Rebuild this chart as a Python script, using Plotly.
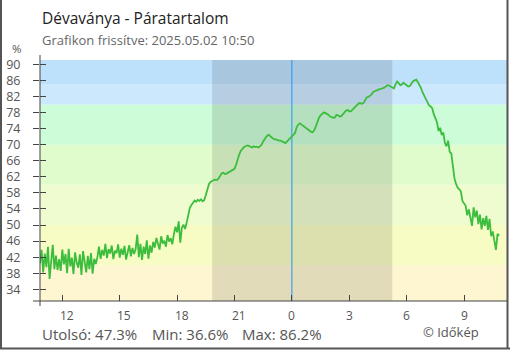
import pandas as pd
import plotly.graph_objects as go

# Relative humidity (%), one reading every 5 minutes, 2025-05-01 10:50 .. 2025-05-02 10:50
start_time = "2025-05-01 10:50"
step = "5min"
hum_rows = [
    [40.5, 43.8, 38.2, 42.9, 39.5, 44.6, 36.6, 41.8, 45.1, 39.0, 42.4, 38.8],
    [41.5, 38.6, 43.9, 40.2, 42.8, 38.0, 44.1, 39.7, 41.9, 37.8, 43.2, 40.6],
    [39.4, 42.7, 37.6, 43.5, 40.1, 38.2, 42.3, 39.0, 43.0, 37.9, 41.6, 40.3],
    [42.0, 44.6, 41.6, 43.8, 42.4, 45.3, 41.8, 44.0, 42.9, 44.9, 41.5, 43.6],
    [43.0, 45.2, 41.9, 44.1, 42.6, 44.8, 41.4, 43.7, 45.0, 42.2, 44.3, 42.8],
    [44.0, 47.6, 42.0, 45.3, 41.3, 44.6, 42.8, 46.2, 41.6, 44.9, 43.1, 45.8],
    [44.4, 46.8, 45.0, 43.9, 47.2, 45.4, 46.1, 44.6, 47.5, 45.9, 46.7, 45.2],
    [47.8, 49.6, 48.2, 50.9, 45.6, 49.3, 50.1, 49.0, 50.6, 52.8, 54.3, 55.0],
    [55.6, 56.1, 55.8, 56.3, 56.0, 56.4, 55.9, 56.2, 57.4, 59.0, 60.2, 60.7],
    [61.0, 61.2, 61.3, 61.2, 61.6, 62.3, 62.9, 63.0, 62.7, 62.8, 63.0, 63.3],
    [63.4, 63.6, 64.0, 65.0, 66.4, 67.6, 68.5, 69.0, 69.4, 69.6, 69.8, 69.7],
    [69.5, 69.3, 69.6, 69.4, 69.5, 69.3, 69.6, 70.0, 70.8, 71.5, 72.0, 72.4],
    [72.3, 71.9, 71.6, 71.3, 71.3, 71.1, 71.0, 71.0, 70.8, 70.5, 70.4, 70.8],
    [71.2, 71.6, 72.0, 72.3, 72.9, 74.3, 75.0, 75.3, 75.0, 74.5, 74.3, 73.9],
    [73.7, 73.5, 73.2, 73.1, 73.6, 74.5, 75.8, 76.7, 77.3, 77.6, 78.0, 77.9],
    [77.7, 77.4, 77.0, 76.8, 76.7, 76.8, 77.4, 77.3, 77.0, 77.1, 77.6, 78.2],
    [78.5, 78.6, 78.3, 78.3, 78.8, 79.2, 79.5, 79.9, 80.3, 80.3, 80.2, 80.4],
    [81.2, 81.8, 81.9, 82.1, 82.5, 83.1, 83.3, 83.5, 83.8, 83.8, 83.9, 84.0],
    [84.2, 84.5, 84.8, 84.7, 84.4, 84.1, 84.0, 85.0, 85.7, 85.3, 84.8, 85.0],
    [85.4, 85.1, 84.8, 84.5, 84.6, 85.4, 85.8, 86.0, 86.2, 85.6, 85.0, 84.1],
    [83.0, 82.2, 81.4, 80.5, 79.8, 79.5, 79.1, 77.6, 76.6, 75.6, 73.4, 74.2],
    [72.4, 73.0, 70.4, 69.6, 71.0, 68.2, 67.8, 64.0, 61.6, 60.2, 59.3, 58.9],
    [58.4, 56.0, 55.4, 54.8, 52.4, 53.9, 51.8, 49.8, 54.4, 51.9, 53.6, 50.2],
    [52.6, 48.9, 51.7, 49.8, 52.3, 48.8, 51.5, 47.2, 48.4, 45.6, 43.8, 47.8],
    [47.3],
]
humidity = [v for row in hum_rows for v in row]
times = pd.date_range(start_time, periods=len(humidity), freq=step)

# Axis settings
x_range = ["2025-05-01 10:50", "2025-05-02 11:14:43"]
y_range = [31.09, 91.07]
y_ticks = list(range(34, 91, 4))
x_tick_times = ["2025-05-01 12:00", "2025-05-01 15:00", "2025-05-01 18:00", "2025-05-01 21:00",
                "2025-05-02 00:00", "2025-05-02 03:00", "2025-05-02 06:00", "2025-05-02 09:00"]
x_tick_labels = ["12", "15", "18", "21", "0", "3", "6", "9"]

# Humidity background bands (lower edge, upper edge, colour)
band_low = [31.09, 40, 50, 60, 70, 80, 85]
band_high = [40, 50, 60, 70, 80, 85, 91.07]
band_colors = ["#fdf6d0", "#f6fcc4", "#eefcd0", "#e0fccc", "#ccfcd8", "#cce8fd", "#bde0fb"]

night_start = "2025-05-01 19:50"
night_end = "2025-05-02 05:15"
midnight = "2025-05-02 00:00"

title_text = "Dévaványa - Páratartalom"
updated_text = "Grafikon frissítve: 2025.05.02 10:50"
credit_text = "© Időkép"

FONT = "Open Sans"
W, H = 510, 350
ML, MR, MT, MB = 40, 3, 60, 49
PW, PH = W - ML - MR, H - MT - MB


def px(x):
    """Horizontal pixel position -> paper coordinate."""
    return (x - ML) / PW


def py(y):
    """Vertical pixel position -> paper coordinate."""
    return (H - MB - y) / PH


fig = go.Figure()
fig.add_trace(go.Scatter(
    x=times, y=humidity, mode="lines",
    line=dict(color="#3dbd3d", width=1.8),
    hoverinfo="skip", showlegend=False,
))
# second (overlaid) y axis only supplies the inward half of the tick marks
fig.add_trace(go.Scatter(
    x=[times[0]], y=[humidity[0]], yaxis="y2", mode="markers",
    marker=dict(opacity=0), hoverinfo="skip", showlegend=False,
))

shapes = []
for lo, hi, col in zip(band_low, band_high, band_colors):
    shapes.append(dict(type="rect", xref="paper", yref="y", x0=0, x1=1, y0=lo, y1=hi,
                       fillcolor=col, line=dict(width=0), layer="below"))
shapes.append(dict(type="rect", xref="x", yref="paper", x0=night_start, x1=night_end, y0=0, y1=1,
                   fillcolor="rgba(0,0,0,0.11)", line=dict(width=0), layer="below"))
shapes.append(dict(type="line", xref="x", yref="paper", x0=midnight, x1=midnight, y0=0, y1=1,
                   line=dict(color="#2196f3", width=1), layer="below"))
# axis lines, running a few pixels past the corner
shapes.append(dict(type="line", xref="paper", yref="paper", x0=0, x1=0, y0=py(306), y1=py(55),
                   line=dict(color="#444", width=1)))
shapes.append(dict(type="line", xref="paper", yref="paper", x0=px(33), x1=1, y0=0, y1=0,
                   line=dict(color="#444", width=1)))
# frame around the widget
frame = "#555"
shapes.append(dict(type="line", xref="paper", yref="paper", x0=px(1), x1=px(1), y0=py(0), y1=py(349),
                   line=dict(color=frame, width=2)))
shapes.append(dict(type="line", xref="paper", yref="paper", x0=px(507.5), x1=px(507.5), y0=py(0), y1=py(349),
                   line=dict(color=frame, width=2)))
shapes.append(dict(type="line", xref="paper", yref="paper", x0=px(0), x1=px(510), y0=py(348.5), y1=py(348.5),
                   line=dict(color=frame, width=2)))

annotations = [
    dict(text=title_text, xref="paper", yref="paper", x=px(40), y=py(18.5), xanchor="left",
         yanchor="middle", showarrow=False, font=dict(family=FONT, size=15.5, color="#222")),
    dict(text=updated_text, xref="paper", yref="paper", x=px(40), y=py(40), xanchor="left",
         yanchor="middle", showarrow=False, font=dict(family=FONT, size=13, color="#666")),
    dict(text="%", xref="paper", yref="paper", x=px(17), y=py(48.5), xanchor="center",
         yanchor="middle", borderpad=0, showarrow=False,
         font=dict(family=FONT, size=11.5, color="#555")),
    dict(text=credit_text, xref="paper", yref="paper", x=px(481), y=py(331.5), xanchor="right",
         yanchor="middle", showarrow=False, font=dict(family=FONT, size=13, color="#555")),
]
for t, lab in zip(x_tick_times, x_tick_labels):
    annotations.append(dict(text=lab, xref="x", yref="paper", x=t, y=py(315.5),
                            xanchor="center", yanchor="middle", xshift=4.5 if len(lab) > 1 else 0,
                            borderpad=0, showarrow=False,
                            font=dict(family=FONT, size=12, color="#555")))

summary = [
    (f"Utolsó: {humidity[-1]:.1f}%", 40.5),
    (f"Min: {min(humidity):.1f}%", 150.5),
    (f"Max: {max(humidity):.1f}%", 240.5),
]
for txt, xpix in summary:
    annotations.append(dict(text=txt, xref="paper", yref="paper", x=px(xpix), y=py(333.5),
                            xanchor="left", yanchor="middle", borderpad=0, showarrow=False,
                            font=dict(family=FONT, size=15, color="#555")))

fig.update_layout(
    width=W, height=H,
    margin=dict(l=ML, r=MR, t=MT, b=MB, pad=0),
    paper_bgcolor="white", plot_bgcolor="white",
    showlegend=False,
    font=dict(family=FONT, color="#555"),
    xaxis=dict(type="date", range=x_range, tickvals=x_tick_times, showticklabels=False,
               ticks="inside", ticklen=6, tickcolor="#444", tickwidth=1,
               showgrid=False, zeroline=False, showline=False, fixedrange=True),
    yaxis=dict(range=y_range, tickvals=y_ticks, ticks="outside", ticklen=6, tickcolor="#444",
               tickwidth=1, tickfont=dict(family=FONT, size=12.5, color="#555"),
               ticklabelstandoff=10,
               showgrid=False, zeroline=False, showline=False, fixedrange=True),
    yaxis2=dict(range=y_range, tickvals=y_ticks, overlaying="y", side="left", ticks="inside",
                ticklen=6, tickcolor="#444", tickwidth=1, showticklabels=False,
                showgrid=False, zeroline=False, showline=False, fixedrange=True),
    shapes=shapes,
    annotations=annotations,
)

fig.write_html("out.html", config={"displayModeBar": False})
